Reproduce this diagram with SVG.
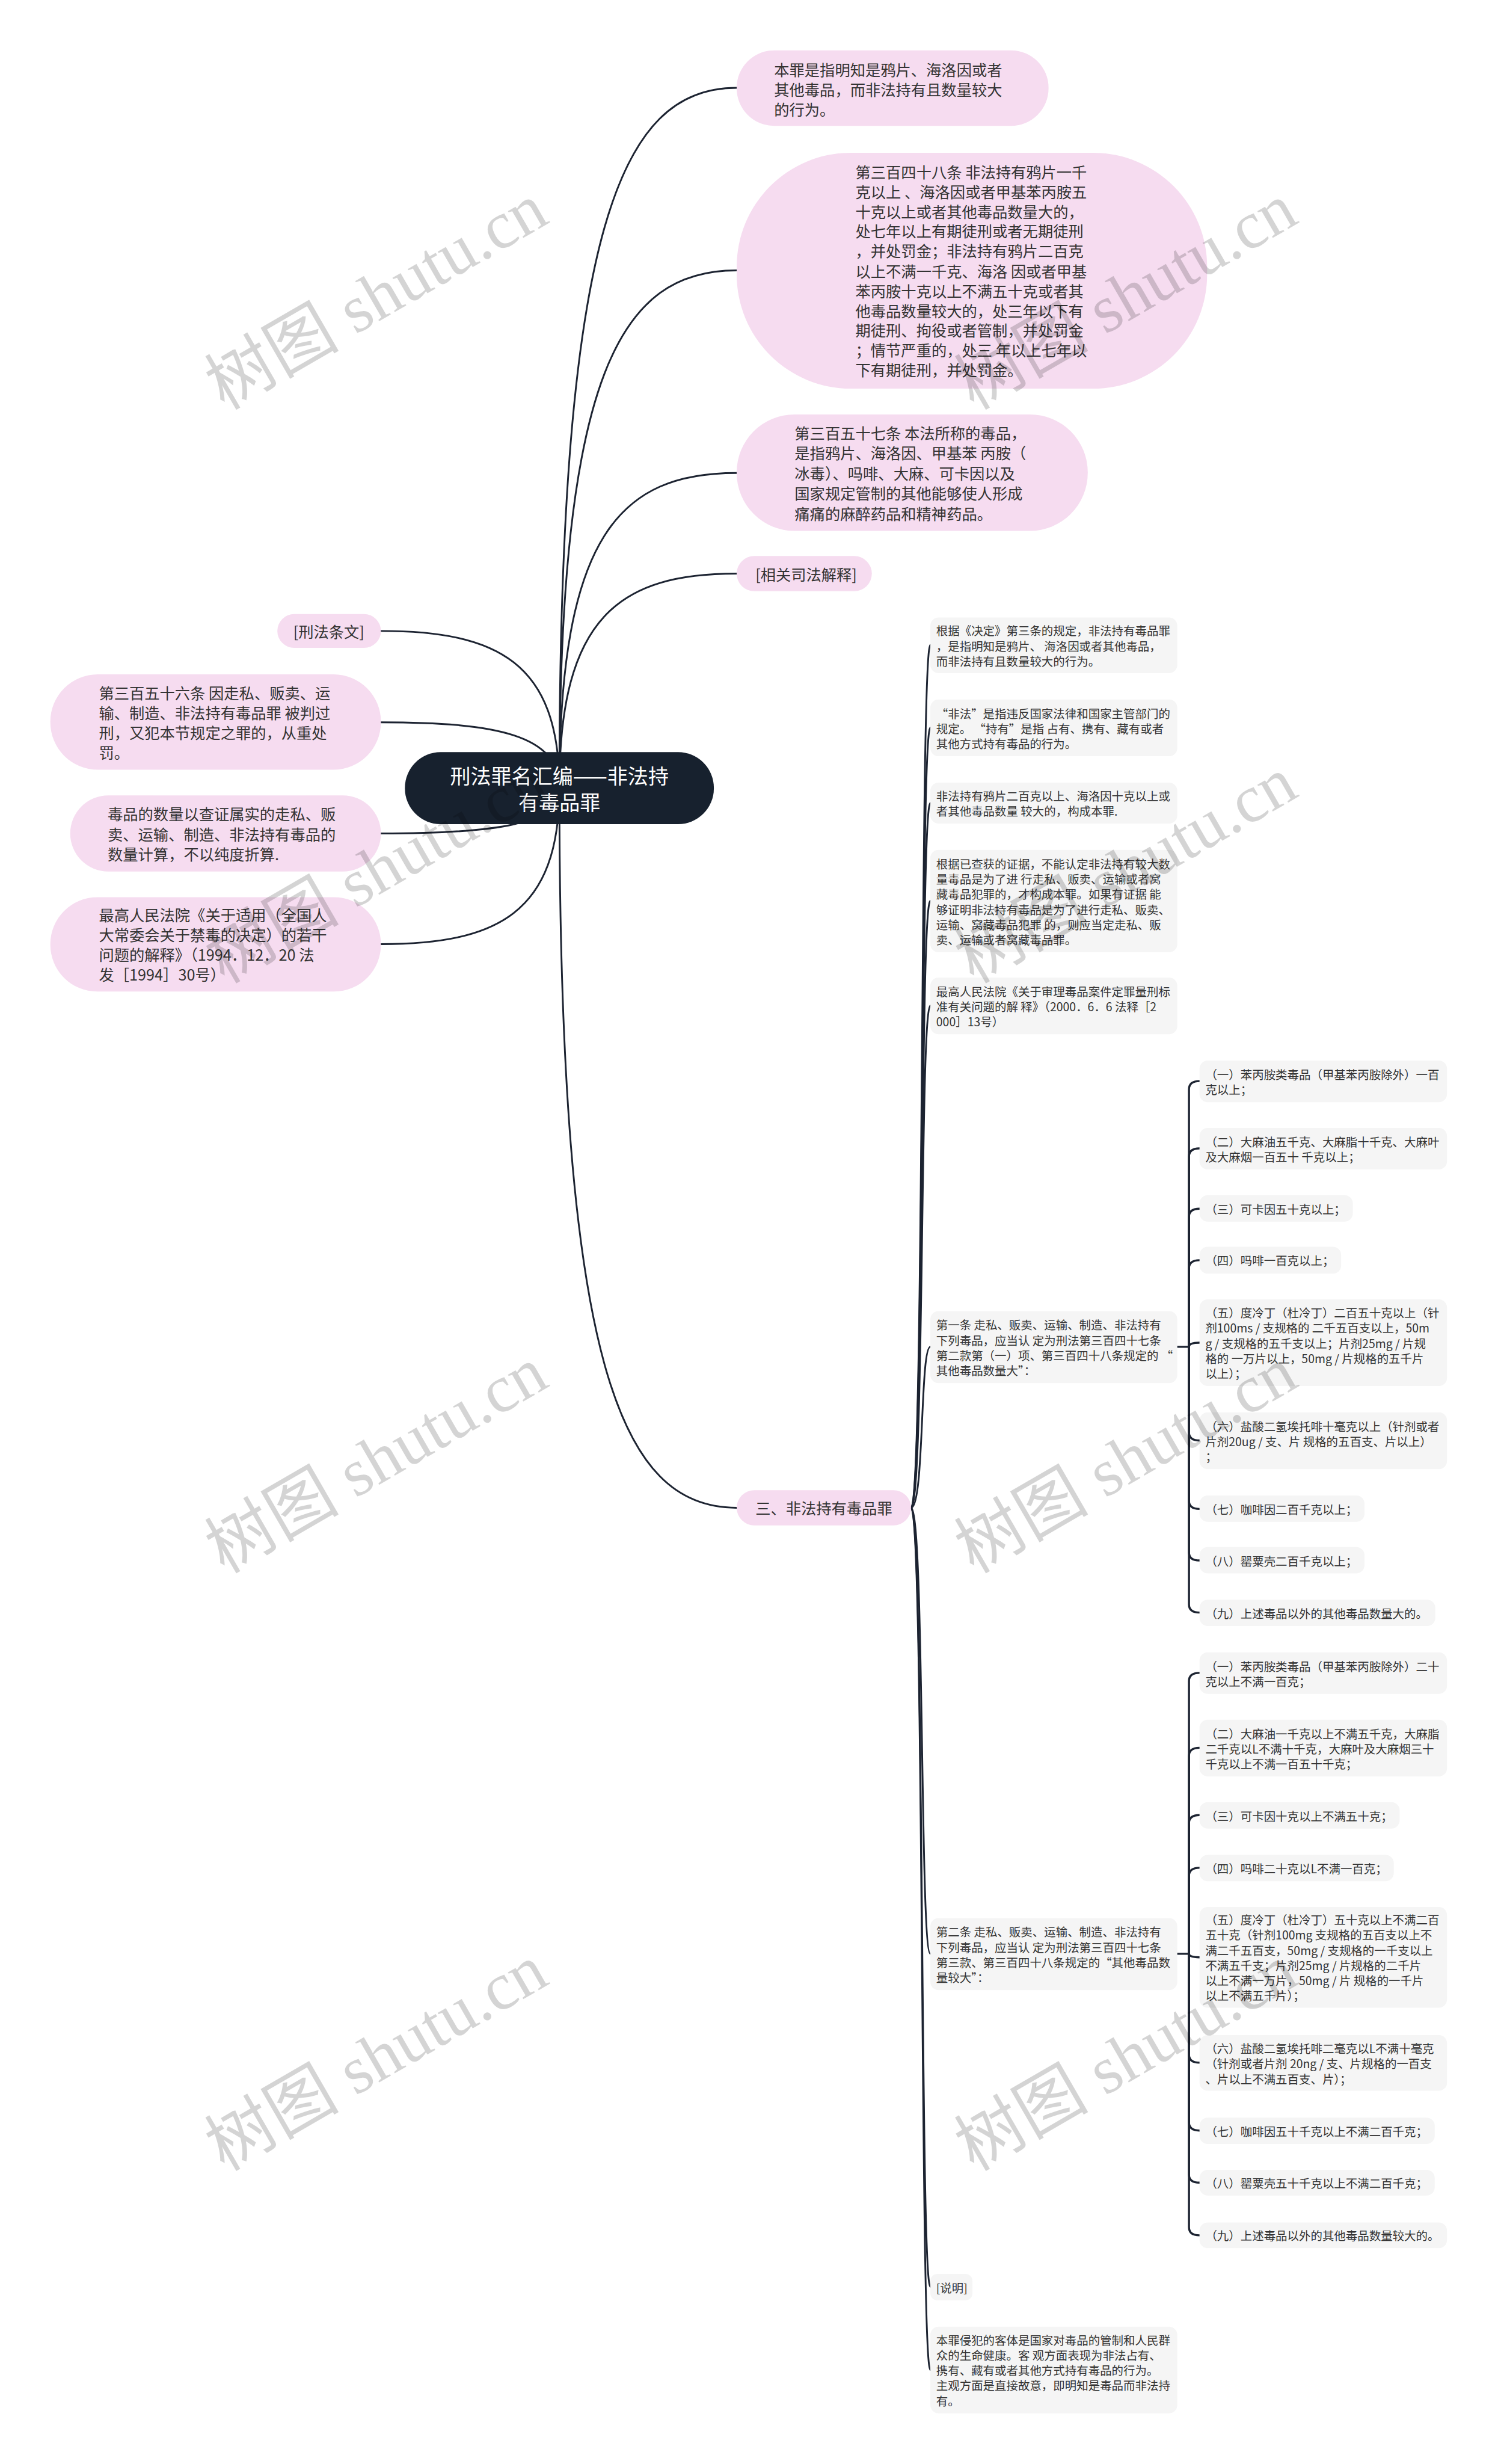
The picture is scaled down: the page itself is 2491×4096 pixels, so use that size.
<svg xmlns="http://www.w3.org/2000/svg" width="2491" height="4096" viewBox="0 0 2491 4096">
<style>
text{font-family:"Noto Sans CJK SC","Noto Sans",sans-serif;dominant-baseline:central}
.p{fill:#f6dcf0}
.g{fill:#f5f5f5}
.t1{font-size:26px;fill:#333}
.t2{font-size:20px;fill:#333}
.rt{font-size:35px;fill:#fff}
.e{fill:none;stroke:#1c2331;stroke-width:3;stroke-linecap:round}
.b{fill:none;stroke:#1c2331;stroke-width:3.5;stroke-linecap:round}
.wm{font-family:"Liberation Serif","Noto Sans CJK SC",serif;font-size:115px;fill:#000;fill-opacity:.17;dominant-baseline:auto}
</style>
<rect width="2491" height="4096" fill="#fff"/>
<g transform="scale(0.973)">
<g id="connectors">
<path class="e" d="M956 1346C956 390 1060 150 1259 150"/>
<path class="e" d="M956 1346C956 639 1060 462 1259 462"/>
<path class="e" d="M956 1346C956 915 1060 808 1259 808"/>
<path class="e" d="M956 1346C956 1053 1060 980 1259 980"/>
<path class="e" d="M956 1346C956 2330 1060 2576 1259 2576"/>
<path class="e" d="M956 1346C956 1132 850 1078 651 1078"/>
<path class="e" d="M956 1346C956 1256 850 1234 651 1234"/>
<path class="e" d="M956 1346C956 1408 850 1424 651 1424"/>
<path class="e" d="M956 1346C956 1560 850 1613 651 1613"/>
<path class="e" d="M1557 2576C1580 2576 1572 1102 1590 1102"/>
<path class="e" d="M1557 2576C1580 2576 1572 1243 1590 1243"/>
<path class="e" d="M1557 2576C1580 2576 1572 1372 1590 1372"/>
<path class="e" d="M1557 2576C1580 2576 1572 1539 1590 1539"/>
<path class="e" d="M1557 2576C1580 2576 1572 1718 1590 1718"/>
<path class="e" d="M1557 2576C1580 2576 1572 2301 1590 2301"/>
<path class="e" d="M1557 2576C1580 2576 1572 3338 1590 3338"/>
<path class="e" d="M1557 2576C1580 2576 1572 3907 1590 3907"/>
<path class="e" d="M1557 2576C1580 2576 1572 4049 1590 4049"/>
<path class="b" d="M2012 2301H2032"/>
<path class="b" d="M2032 2301V1861Q2032 1847 2050 1847"/>
<path class="b" d="M2032 2301V1976Q2032 1962 2050 1962"/>
<path class="b" d="M2032 2301V2079Q2032 2065 2050 2065"/>
<path class="b" d="M2032 2301V2167Q2032 2153 2050 2153"/>
<path class="b" d="M2032 2301Q2032 2294 2050 2294"/>
<path class="b" d="M2032 2301V2447Q2032 2461 2050 2461"/>
<path class="b" d="M2032 2301V2564Q2032 2578 2050 2578"/>
<path class="b" d="M2032 2301V2652Q2032 2666 2050 2666"/>
<path class="b" d="M2032 2301V2741Q2032 2755 2050 2755"/>
<path class="b" d="M2012 3338H2032"/>
<path class="b" d="M2032 3338V2872Q2032 2858 2050 2858"/>
<path class="b" d="M2032 3338V3000Q2032 2986 2050 2986"/>
<path class="b" d="M2032 3338V3115Q2032 3101 2050 3101"/>
<path class="b" d="M2032 3338V3205Q2032 3191 2050 3191"/>
<path class="b" d="M2032 3338Q2032 3344 2050 3344"/>
<path class="b" d="M2032 3338V3510Q2032 3524 2050 3524"/>
<path class="b" d="M2032 3338V3626Q2032 3640 2050 3640"/>
<path class="b" d="M2032 3338V3715Q2032 3729 2050 3729"/>
<path class="b" d="M2032 3338V3805Q2032 3819 2050 3819"/>
</g>

<g id="root">
<rect x="692" y="1285" width="528" height="123" rx="61" fill="#17212e"/>
<text class="rt" x="956" y="1324" text-anchor="middle">刑法罪名汇编——非法持</text>
<text class="rt" x="956" y="1369" text-anchor="middle">有毒品罪</text>
</g>

<g id="nA">
<rect class="p" x="1259" y="86" width="533" height="129" rx="64"/>
<text class="t1" x="1323" y="118">本罪是指明知是鸦片、海洛因或者</text>
<text class="t1" x="1323" y="152">其他毒品，而非法持有且数量较大</text>
<text class="t1" x="1323" y="186">的行为。</text>
</g>
<g id="nB">
<rect class="p" x="1259" y="261" width="804" height="403" rx="195"/>
<text class="t1" x="1462" y="293">第三百四十八条 非法持有鸦片一千</text>
<text class="t1" x="1462" y="327">克以上 、海洛因或者甲基苯丙胺五</text>
<text class="t1" x="1462" y="361">十克以上或者其他毒品数量大的，</text>
<text class="t1" x="1462" y="394">处七年以上有期徒刑或者无期徒刑</text>
<text class="t1" x="1462" y="428">，并处罚金；非法持有鸦片二百克</text>
<text class="t1" x="1462" y="462">以上不满一千克、海洛 因或者甲基</text>
<text class="t1" x="1462" y="496">苯丙胺十克以上不满五十克或者其</text>
<text class="t1" x="1462" y="530">他毒品数量较大的，处三年以下有</text>
<text class="t1" x="1462" y="563">期徒刑、拘役或者管制，并处罚金</text>
<text class="t1" x="1462" y="597">；情节严重的，处三 年以上七年以</text>
<text class="t1" x="1462" y="631">下有期徒刑，并处罚金。</text>
</g>
<g id="nC">
<rect class="p" x="1259" y="708" width="600" height="199" rx="99"/>
<text class="t1" x="1358" y="739">第三百五十七条 本法所称的毒品，</text>
<text class="t1" x="1358" y="773">是指鸦片、海洛因、甲基苯 丙胺（</text>
<text class="t1" x="1358" y="808">冰毒）、吗啡、大麻、可卡因以及</text>
<text class="t1" x="1358" y="842">国家规定管制的其他能够使人形成</text>
<text class="t1" x="1358" y="877">痛痛的麻醉药品和精神药品。</text>
</g>
<g id="nD">
<rect class="p" x="1259" y="950" width="231" height="60" rx="30"/>
<text class="t1" x="1291" y="980">[相关司法解释]</text>
</g>
<g id="nE">
<rect class="p" x="1259" y="2546" width="298" height="60" rx="30"/>
<text class="t1" x="1291" y="2576">三、非法持有毒品罪</text>
</g>

<g id="nL1">
<rect class="p" x="474" y="1049" width="177" height="58" rx="29"/>
<text class="t1" x="562" y="1078" text-anchor="middle">[刑法条文]</text>
</g>
<g id="nL2">
<rect class="p" x="86" y="1152" width="565" height="163" rx="81"/>
<text class="t1" x="169" y="1183">第三百五十六条 因走私、贩卖、运</text>
<text class="t1" x="169" y="1217">输、制造、非法持有毒品罪 被判过</text>
<text class="t1" x="169" y="1251">刑，又犯本节规定之罪的，从重处</text>
<text class="t1" x="169" y="1285">罚。</text>
</g>
<g id="nL3">
<rect class="p" x="120" y="1359" width="531" height="130" rx="65"/>
<text class="t1" x="184" y="1390">毒品的数量以查证属实的走私、贩</text>
<text class="t1" x="184" y="1424">卖、运输、制造、非法持有毒品的</text>
<text class="t1" x="184" y="1458">数量计算，不以纯度折算.</text>
</g>
<g id="nL4">
<rect class="p" x="86" y="1533" width="565" height="161" rx="80"/>
<text class="t1" x="169" y="1562">最高人民法院《关于适用（全国人</text>
<text class="t1" x="169" y="1596">大常委会关于禁毒的决定）的若干</text>
<text class="t1" x="169" y="1630">问题的解释》（1994．12．20 法</text>
<text class="t1" x="169" y="1664">发［1994］30号）</text>
</g>

<g id="g1">
<rect class="g" x="1590" y="1055" width="422" height="95" rx="14"/>
<text class="t2" x="1600" y="1077">根据《决定》第三条的规定，非法持有毒品罪</text>
<text class="t2" x="1600" y="1103">，是指明知是鸦片、 海洛因或者其他毒品，</text>
<text class="t2" x="1600" y="1129">而非法持有且数量较大的行为。</text>
</g>
<g id="g2">
<rect class="g" x="1590" y="1195" width="422" height="97" rx="14"/>
<text class="t2" x="1600" y="1218">“非法”是指违反国家法律和国家主管部门的</text>
<text class="t2" x="1600" y="1244">规定。 “持有”是指 占有、携有、藏有或者</text>
<text class="t2" x="1600" y="1270">其他方式持有毒品的行为。</text>
</g>
<g id="g3">
<rect class="g" x="1590" y="1337" width="422" height="70" rx="14"/>
<text class="t2" x="1600" y="1359">非法持有鸦片二百克以上、海洛因十克以上或</text>
<text class="t2" x="1600" y="1385">者其他毒品数量 较大的，构成本罪.</text>
</g>
<g id="g4">
<rect class="g" x="1590" y="1452" width="422" height="175" rx="14"/>
<text class="t2" x="1600" y="1475">根据已查获的证据，不能认定非法持有较大数</text>
<text class="t2" x="1600" y="1501">量毒品是为了进 行走私、贩卖、运输或者窝</text>
<text class="t2" x="1600" y="1527">藏毒品犯罪的，才构成本罪。如果有证据 能</text>
<text class="t2" x="1600" y="1553">够证明非法持有毒品是为了进行走私、贩卖、</text>
<text class="t2" x="1600" y="1579">运输、窝藏毒品犯罪 的，则应当定走私、贩</text>
<text class="t2" x="1600" y="1605">卖、运输或者窝藏毒品罪。</text>
</g>
<g id="g5">
<rect class="g" x="1590" y="1670" width="422" height="97" rx="14"/>
<text class="t2" x="1600" y="1693">最高人民法院《关于审理毒品案件定罪量刑标</text>
<text class="t2" x="1600" y="1719">准有关问题的解 释》（2000．6．6 法释［2</text>
<text class="t2" x="1600" y="1745">000］13号）</text>
</g>
<g id="g6">
<rect class="g" x="1590" y="2240" width="422" height="123" rx="14"/>
<text class="t2" x="1600" y="2263">第一条 走私、贩卖、运输、制造、非法持有</text>
<text class="t2" x="1600" y="2289">下列毒品，应当认 定为刑法第三百四十七条</text>
<text class="t2" x="1600" y="2315">第二款第（一）项、第三百四十八条规定的 “</text>
<text class="t2" x="1600" y="2341">其他毒品数量大”：</text>
</g>
<g id="g7">
<rect class="g" x="1590" y="3277" width="422" height="123" rx="14"/>
<text class="t2" x="1600" y="3300">第二条 走私、贩卖、运输、制造、非法持有</text>
<text class="t2" x="1600" y="3326">下列毒品，应当认 定为刑法第三百四十七条</text>
<text class="t2" x="1600" y="3352">第三款、第三百四十八条规定的“其他毒品数</text>
<text class="t2" x="1600" y="3378">量较大”：</text>
</g>
<g id="g8">
<rect class="g" x="1590" y="3885" width="72" height="45" rx="12"/>
<text class="t2" x="1600" y="3908">[说明]</text>
</g>
<g id="g9">
<rect class="g" x="1590" y="3975" width="422" height="148" rx="14"/>
<text class="t2" x="1600" y="3997">本罪侵犯的客体是国家对毒品的管制和人民群</text>
<text class="t2" x="1600" y="4023">众的生命健康。客 观方面表现为非法占有、</text>
<text class="t2" x="1600" y="4049">携有、藏有或者其他方式持有毒品的行为。</text>
<text class="t2" x="1600" y="4075">主观方面是直接故意，即明知是毒品而非法持</text>
<text class="t2" x="1600" y="4101">有。</text>
</g>

<g id="i1">
<rect class="g" x="2050" y="1812" width="423" height="71" rx="14"/>
<text class="t2" x="2060" y="1835">（一）苯丙胺类毒品（甲基苯丙胺除外）一百</text>
<text class="t2" x="2060" y="1861">克以上；</text>
</g>
<g id="i2">
<rect class="g" x="2050" y="1927" width="423" height="71" rx="14"/>
<text class="t2" x="2060" y="1950">（二）大麻油五千克、大麻脂十千克、大麻叶</text>
<text class="t2" x="2060" y="1976">及大麻烟一百五十 千克以上；</text>
</g>
<g id="i3">
<rect class="g" x="2050" y="2042" width="262" height="45" rx="14"/>
<text class="t2" x="2060" y="2065">（三）可卡因五十克以上；</text>
</g>
<g id="i4">
<rect class="g" x="2050" y="2130" width="242" height="46" rx="14"/>
<text class="t2" x="2060" y="2153">（四）吗啡一百克以上；</text>
</g>
<g id="i5">
<rect class="g" x="2050" y="2220" width="423" height="148" rx="14"/>
<text class="t2" x="2060" y="2242">（五）度冷丁（杜冷丁）二百五十克以上（针</text>
<text class="t2" x="2060" y="2268">剂100ms / 支规格的 二千五百支以上，50m</text>
<text class="t2" x="2060" y="2294">g / 支规格的五千支以上；片剂25mg / 片规</text>
<text class="t2" x="2060" y="2320">格的 一万片以上，50mg / 片规格的五千片</text>
<text class="t2" x="2060" y="2346">以上）；</text>
</g>
<g id="i6">
<rect class="g" x="2050" y="2413" width="423" height="97" rx="14"/>
<text class="t2" x="2060" y="2436">（六）盐酸二氢埃托啡十毫克以上（针剂或者</text>
<text class="t2" x="2060" y="2462">片剂20ug / 支、片 规格的五百支、片以上）</text>
<text class="t2" x="2060" y="2488">；</text>
</g>
<g id="i7">
<rect class="g" x="2050" y="2555" width="282" height="45" rx="14"/>
<text class="t2" x="2060" y="2578">（七）咖啡因二百千克以上；</text>
</g>
<g id="i8">
<rect class="g" x="2050" y="2643" width="282" height="45" rx="14"/>
<text class="t2" x="2060" y="2666">（八）罂粟壳二百千克以上；</text>
</g>
<g id="i9">
<rect class="g" x="2050" y="2733" width="403" height="45" rx="14"/>
<text class="t2" x="2060" y="2756">（九）上述毒品以外的其他毒品数量大的。</text>
</g>

<g id="j1">
<rect class="g" x="2050" y="2823" width="423" height="71" rx="14"/>
<text class="t2" x="2060" y="2846">（一）苯丙胺类毒品（甲基苯丙胺除外）二十</text>
<text class="t2" x="2060" y="2872">克以上不满一百克；</text>
</g>
<g id="j2">
<rect class="g" x="2050" y="2938" width="423" height="97" rx="14"/>
<text class="t2" x="2060" y="2961">（二）大麻油一千克以上不满五千克，大麻脂</text>
<text class="t2" x="2060" y="2987">二千克以L不满十千克，大麻叶及大麻烟三十</text>
<text class="t2" x="2060" y="3013">千克以上不满一百五十千克；</text>
</g>
<g id="j3">
<rect class="g" x="2050" y="3079" width="342" height="45" rx="14"/>
<text class="t2" x="2060" y="3102">（三）可卡因十克以上不满五十克；</text>
</g>
<g id="j4">
<rect class="g" x="2050" y="3169" width="332" height="45" rx="14"/>
<text class="t2" x="2060" y="3192">（四）吗啡二十克以L不满一百克；</text>
</g>
<g id="j5">
<rect class="g" x="2050" y="3258" width="423" height="172" rx="14"/>
<text class="t2" x="2060" y="3279">（五）度冷丁（杜冷丁）五十克以上不满二百</text>
<text class="t2" x="2060" y="3305">五十克（针剂100mg 支规格的五百支以上不</text>
<text class="t2" x="2060" y="3331">满二千五百支，50mg / 支规格的一千支以上</text>
<text class="t2" x="2060" y="3357"> 不满五千支；片剂25mg / 片规格的二千片</text>
<text class="t2" x="2060" y="3383">以上不满一万片，50mg / 片 规格的一千片</text>
<text class="t2" x="2060" y="3409">以上不满五千片）；</text>
</g>
<g id="j6">
<rect class="g" x="2050" y="3477" width="423" height="95" rx="14"/>
<text class="t2" x="2060" y="3499">（六）盐酸二氢埃托啡二毫克以L不满十毫克</text>
<text class="t2" x="2060" y="3525">（针剂或者片剂 20ng / 支、片规格的一百支</text>
<text class="t2" x="2060" y="3551">、片以上不满五百支、片）；</text>
</g>
<g id="j7">
<rect class="g" x="2050" y="3618" width="402" height="45" rx="14"/>
<text class="t2" x="2060" y="3641">（七）咖啡因五十千克以上不满二百千克；</text>
</g>
<g id="j8">
<rect class="g" x="2050" y="3707" width="402" height="44" rx="14"/>
<text class="t2" x="2060" y="3729">（八）罂粟壳五十千克以上不满二百千克；</text>
</g>
<g id="j9">
<rect class="g" x="2050" y="3797" width="423" height="44" rx="14"/>
<text class="t2" x="2060" y="3819">（九）上述毒品以外的其他毒品数量较大的。</text>
</g>

<g id="watermarks">
<text class="wm" x="645" y="545" text-anchor="middle" transform="rotate(-30 645 510)">树图 shutu.cn</text>
<text class="wm" x="1926" y="545" text-anchor="middle" transform="rotate(-30 1926 510)">树图 shutu.cn</text>
<text class="wm" x="645" y="1525" text-anchor="middle" transform="rotate(-30 645 1490)">树图 shutu.cn</text>
<text class="wm" x="1926" y="1525" text-anchor="middle" transform="rotate(-30 1926 1490)">树图 shutu.cn</text>
<text class="wm" x="645" y="2533" text-anchor="middle" transform="rotate(-30 645 2498)">树图 shutu.cn</text>
<text class="wm" x="1926" y="2533" text-anchor="middle" transform="rotate(-30 1926 2498)">树图 shutu.cn</text>
<text class="wm" x="645" y="3554" text-anchor="middle" transform="rotate(-30 645 3519)">树图 shutu.cn</text>
<text class="wm" x="1926" y="3554" text-anchor="middle" transform="rotate(-30 1926 3519)">树图 shutu.cn</text>
</g>
</g>
</svg>
